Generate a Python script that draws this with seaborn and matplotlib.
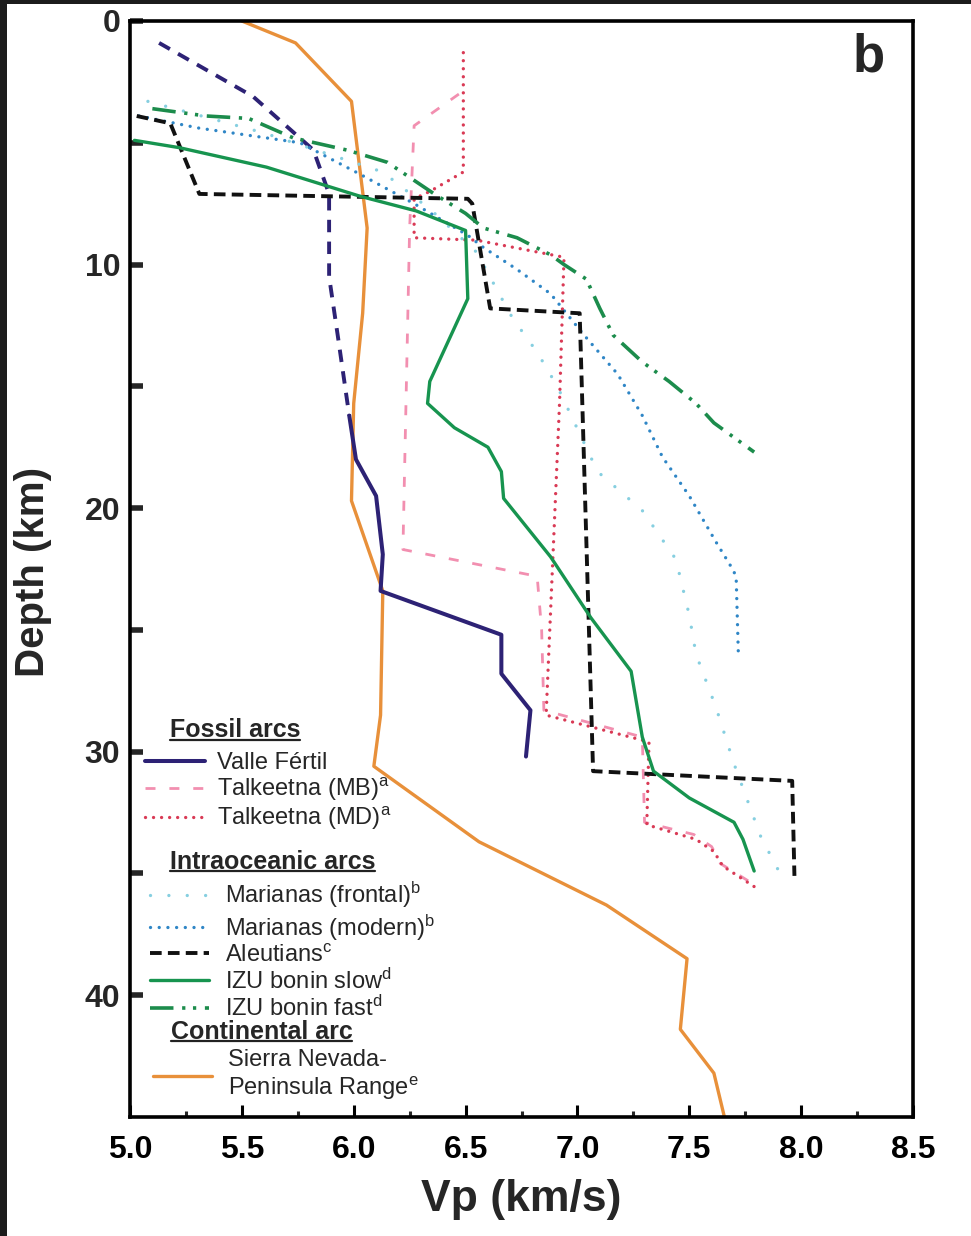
import numpy as np
import matplotlib
matplotlib.use("Agg")
import matplotlib.pyplot as plt
import seaborn as sns
from matplotlib.lines import Line2D
from matplotlib.patches import Rectangle

# ---------------- data (Vp in km/s, depth in km) ----------------
valle_dash_vp = [5.13, 5.55, 5.82, 5.89, 5.89, 5.93, 5.98]
valle_dash_depth = [0.9, 3.1, 5.3, 7.1, 10.5, 13.0, 16.2]
valle_vp = [5.98, 6.01, 6.10, 6.13, 6.12, 6.66, 6.66, 6.79, 6.77]
valle_depth = [16.2, 18.0, 19.5, 21.9, 23.4, 25.2, 26.8, 28.3, 30.2]

mb_vp = [6.47, 6.27, 6.25, 6.22, 6.82, 6.84, 6.85, 7.29, 7.30, 7.52, 7.60, 7.64, 7.78]
mb_depth = [3.0, 4.3, 8.5, 21.7, 22.8, 25.0, 28.3, 29.4, 32.9, 33.4, 33.9, 34.6, 35.4]

md_vp = [6.49, 6.49, 6.34, 6.27, 6.27, 6.55, 6.94, 6.92, 6.86, 7.32, 7.31, 7.53, 7.61, 7.65, 7.80]
md_depth = [1.3, 6.2, 7.0, 7.3, 8.9, 9.0, 9.7, 15.7, 28.5, 29.6, 33.0, 33.6, 34.1, 34.7, 35.6]

frontal_vp = [5.08, 5.60, 6.13, 6.35, 6.55, 6.65, 6.71, 6.82, 6.91, 7.09, 7.29, 7.44,
              7.50, 7.53, 7.62, 7.70, 7.82, 7.90]
frontal_depth = [3.3, 4.6, 6.2, 7.8, 9.5, 11.2, 12.2, 13.6, 15.0, 18.5, 20.1, 22.1,
                 24.4, 26.0, 28.2, 30.5, 33.5, 34.9]

modern_vp = [5.04, 5.31, 5.76, 6.03, 6.27, 6.51, 6.58, 6.73, 6.88, 7.03, 7.18, 7.29,
             7.38, 7.50, 7.62, 7.70, 7.71, 7.72]
modern_depth = [3.9, 4.4, 5.0, 6.3, 7.5, 8.8, 9.3, 10.2, 11.2, 12.9, 14.5, 16.2,
                17.9, 19.5, 21.4, 22.6, 23.0, 26.2]

aleut_vp = [5.03, 5.18, 5.31, 6.51, 6.53, 6.61, 7.01, 7.07, 7.96, 7.97]
aleut_depth = [3.9, 4.2, 7.1, 7.3, 7.5, 11.8, 12.0, 30.8, 31.2, 35.1]

izu_slow_vp = [5.02, 5.22, 5.61, 6.03, 6.28, 6.50, 6.51, 6.34, 6.33, 6.45, 6.60, 6.66,
               6.67, 6.88, 7.06, 7.24, 7.29, 7.34, 7.50, 7.70, 7.74, 7.79]
izu_slow_depth = [4.9, 5.2, 6.0, 7.2, 7.8, 8.6, 11.4, 14.8, 15.7, 16.7, 17.5, 18.5,
                  19.6, 22.0, 24.5, 26.7, 29.4, 30.8, 31.9, 32.9, 33.6, 34.9]

izu_fast_vp = [5.10, 5.34, 5.53, 5.73, 5.97, 6.15, 6.36, 6.50, 6.58, 6.73, 6.88, 6.94,
               7.04, 7.10, 7.16, 7.29, 7.41, 7.53, 7.61, 7.79]
izu_fast_depth = [3.6, 3.9, 4.0, 4.8, 5.3, 5.8, 7.1, 7.9, 8.5, 8.9, 9.6, 10.0,
                  10.6, 11.8, 12.9, 14.0, 14.8, 15.7, 16.5, 17.7]

sierra_vp = [5.50, 5.74, 5.99, 6.06, 6.04, 6.00, 5.99, 6.13, 6.12, 6.09, 6.56, 7.13,
             7.49, 7.46, 7.61, 7.67]
sierra_depth = [0.0, 0.9, 3.3, 8.5, 12.0, 15.7, 19.7, 23.4, 28.5, 30.6, 33.7, 36.3,
                38.5, 41.4, 43.2, 45.5]

x_ticks = [5.0, 5.5, 6.0, 6.5, 7.0, 7.5, 8.0, 8.5]
x_ticklabels = ["5.0", "5.5", "6.0", "6.5", "7.0", "7.5", "8.0", "8.5"]
y_ticks = [0, 10, 20, 30, 40]
y_ticklabels = ["0", "10", "20", "30", "40"]

fossil_labels = ["Valle Fértil", r"Talkeetna (MB)$^{a}$", r"Talkeetna (MD)$^{a}$"]
oceanic_labels = [r"Marianas (frontal)$^{b}$", r"Marianas (modern)$^{b}$",
                  r"Aleutians$^{c}$", r"IZU bonin slow$^{d}$", r"IZU bonin fast$^{d}$"]
cont_labels = ["Sierra Nevada-\n" + r"Peninsula Range$^{e}$"]
headers = ["Fossil arcs", "Intraoceanic arcs", "Continental arc"]

# ---------------- style ----------------
sns.set_style("white")
plt.rcParams['font.family'] = ['Liberation Sans', 'DejaVu Sans']
plt.rcParams['mathtext.default'] = 'regular'

W, H = 971, 1236
fig = plt.figure(figsize=(W / 100, H / 100), dpi=100, facecolor='white')
L, R, T, B = 130, 913, 21, 1117
ax = fig.add_axes([L / W, 1 - B / H, (R - L) / W, (B - T) / H])
ax.set_facecolor('white')


def draw(vp, depth, **kw):
    sns.lineplot(x=vp, y=depth, sort=False, estimator=None, ax=ax, legend=False, **kw)
    return ax.lines[-1]


h_sierra = draw(sierra_vp, sierra_depth, color='#e8903a', linewidth=2.4,
                linestyle='-', zorder=2)
draw(valle_dash_vp, valle_dash_depth, color='#2d2275', linewidth=2.8,
     linestyle=(0, (3.2, 2.4)), zorder=3)
h_valle = draw(valle_vp, valle_depth, color='#2d2275', linewidth=2.9,
               linestyle='-', zorder=3)
h_mb = draw(mb_vp, mb_depth, color='#f28fb0', linewidth=2.0,
            linestyle=(0, (3.6, 5.0)), zorder=3)
h_md = draw(md_vp, md_depth, color='#d93a55', linewidth=2.4,
            linestyle=(0, (0.01, 2.4)), dash_capstyle='round', zorder=3)
h_frontal = draw(frontal_vp, frontal_depth, color='#86cfe0', linewidth=2.4,
                 linestyle=(0, (0.01, 5.5)), dash_capstyle='round', zorder=3)
h_modern = draw(modern_vp, modern_depth, color='#2f86c6', linewidth=2.4,
                linestyle=(0, (0.01, 2.6)), dash_capstyle='round', zorder=3)
h_aleut = draw(aleut_vp, aleut_depth, color='#111111', linewidth=2.8,
               linestyle=(0, (3.0, 1.6)), zorder=4)
h_slow = draw(izu_slow_vp, izu_slow_depth, color='#17944f', linewidth=2.4,
              linestyle='-', zorder=4)
h_fast = draw(izu_fast_vp, izu_fast_depth, color='#1c8c4c', linewidth=2.6,
              linestyle=(0, (6.5, 2.4, 0.9, 2.1, 0.9, 2.4)), zorder=4)

# ---------------- axes ----------------
ax.set_xlim(5.0, 8.5)
ax.set_ylim(45, 0)
ax.set_xticks(x_ticks)
ax.set_xticklabels(x_ticklabels)
ax.set_xticks(np.arange(5.25, 8.5, 0.5), minor=True)
ax.set_yticks(y_ticks)
ax.set_yticklabels(y_ticklabels)
ax.set_yticks([5, 15, 25, 35], minor=True)

ax.tick_params(axis='x', which='major', direction='in', length=9, width=2.2,
               pad=13, labelsize=23, colors='black', bottom=True, top=False)
ax.tick_params(axis='x', which='minor', direction='in', length=4.5, width=2.2,
               bottom=True, top=False)
ax.tick_params(axis='y', which='both', direction='in', length=9, width=4,
               pad=7, labelsize=23, left=True, right=False)
for lbl in ax.get_xticklabels() + ax.get_yticklabels():
    lbl.set_fontweight('bold')

for s in ax.spines.values():
    s.set_visible(True)
    s.set_color('black')
    s.set_linewidth(2.6)

ax.set_xlabel("Vp (km/s)", fontsize=32, fontweight='bold')
ax.set_ylabel("Depth (km)", fontsize=29, fontweight='bold')
ax.xaxis.set_label_coords(0.50, -0.057)
ax.yaxis.set_label_coords(-0.100, 0.497)

ax.text(0.943, 0.967, "b", transform=ax.transAxes, fontsize=38,
        fontweight='bold', ha='center', va='center')

# ---------------- legends ----------------
common = dict(loc='upper left', frameon=False, borderpad=0, borderaxespad=0,
              fontsize=17, labelspacing=0.08)
leg1 = ax.legend([h_valle, h_mb, h_md], fossil_labels,
                 bbox_to_anchor=(0.019, 0.333), handlelength=2.55,
                 handletextpad=0.5, **common)
ax.add_artist(leg1)
leg2 = ax.legend([h_frontal, h_modern, h_aleut, h_slow, h_fast], oceanic_labels,
                 bbox_to_anchor=(0.026, 0.216), handlelength=2.5,
                 handletextpad=0.65, **common)
ax.add_artist(leg2)
leg3 = ax.legend([h_sierra], cont_labels,
                 bbox_to_anchor=(0.029, 0.062), handlelength=2.5,
                 handletextpad=0.7, **common)

header_pos = [(0.051, 0.353), (0.051, 0.233), (0.052, 0.078)]
header_texts = []
for txt, (hx, hy) in zip(headers, header_pos):
    header_texts.append(ax.text(hx, hy, txt, transform=ax.transAxes, fontsize=18,
                                fontweight='bold', ha='left', va='center', zorder=6))

# dark screenshot borders
fig.add_artist(Rectangle((0, 0), 7 / W, 1, transform=fig.transFigure,
                         facecolor='#1c1c1c', edgecolor='none', zorder=0))
fig.add_artist(Rectangle((0, 1 - 4 / H), 1, 4 / H, transform=fig.transFigure,
                         facecolor='#1c1c1c', edgecolor='none', zorder=0))

# underline headers
fig.canvas.draw()
renderer = fig.canvas.get_renderer()
for t in header_texts:
    bb = t.get_window_extent(renderer)
    y = (bb.y0 + 2.5) / H
    fig.add_artist(Line2D([bb.x0 / W, bb.x1 / W], [y, y], transform=fig.transFigure,
                          color='#222222', linewidth=1.6, zorder=7))

fig.savefig("out.png", dpi=100, facecolor='white')
